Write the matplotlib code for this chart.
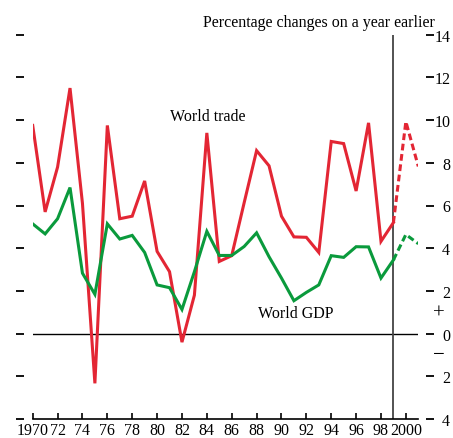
import matplotlib
matplotlib.use("Agg")
import matplotlib.pyplot as plt
import matplotlib.transforms as mtransforms

years = list(range(1970, 2000))
trade = [9.75, 5.7, 7.8, 11.5, 6.1, -2.33, 9.75, 5.38, 5.5, 7.15,
         3.85, 2.9, -0.4, 1.8, 9.4, 3.38, 3.65, 6.13, 8.57, 7.86,
         5.5, 4.53, 4.51, 3.8, 9.0, 8.9, 6.68, 9.87, 4.32, 5.2]
gdp = [5.14, 4.67, 5.38, 6.84, 2.83, 1.84, 5.14, 4.43, 4.6, 3.8,
       2.28, 2.15, 1.13, 2.9, 4.79, 3.66, 3.66, 4.08, 4.72, 3.6,
       2.6, 1.54, 1.93, 2.28, 3.65, 3.57, 4.07, 4.06, 2.6, 3.45]
fc_years = [1999, 2000, 2001]
trade_fc = [5.2, 9.93, 7.83]
gdp_fc = [3.45, 4.64, 4.21]

xtick_pos = list(range(1970, 2001, 2))
xtick_labels = ["1970"] + [f"{y % 100:02d}" for y in range(1972, 2000, 2)] + ["2000"]
ytick_pos = list(range(-4, 15, 2))
ytick_labels = [str(abs(v)) for v in ytick_pos]

RED = "#e32634"
GREEN = "#0a9a3c"
SERIF = ["Liberation Serif", "DejaVu Serif"]
plt.rcParams["font.family"] = SERIF
FS = 11.5

fig = plt.figure(figsize=(4.53, 4.39), dpi=100)
ax = fig.add_axes([32.7 / 453, 1 - 420 / 439, (418.3 - 32.7) / 453, (420 - 35.7) / 439])

ax.plot(years, trade, color=RED, lw=2.2, solid_joinstyle="miter", zorder=3)
ax.plot(years, gdp, color=GREEN, lw=2.2, solid_joinstyle="miter", zorder=3)
ax.plot(fc_years, trade_fc, color=RED, lw=2.2, dashes=(2.2, 1.2), zorder=3)
ax.plot(fc_years, gdp_fc, color=GREEN, lw=2.2, dashes=(2.2, 1.2), zorder=3)

ax.axhline(0, color="black", lw=1.0, zorder=2)
ax.axvline(1999, color="#444444", lw=1.3, zorder=2)

ax.set_xlim(1970, 2001)
ax.set_ylim(-4, 14)

ax.spines["top"].set_visible(False)
ax.spines["bottom"].set_linewidth(1.2)
ax.spines["left"].set_position(("outward", 6.4))
ax.spines["left"].set_visible(False)
ax.spines["right"].set_position(("outward", 5.5))
ax.spines["right"].set_visible(False)

ax.set_xticks(xtick_pos)
ax.set_xticklabels(xtick_labels, fontsize=FS)
ax.tick_params(axis="x", direction="in", length=4, width=1.2, pad=2.5)

ax.set_yticks(ytick_pos)
ax.set_yticklabels(ytick_labels, fontsize=FS)
ax.tick_params(axis="y", direction="out", length=5.5, width=1.3,
               left=True, right=True, labelleft=False, labelright=True, pad=12)
for t in ax.yaxis.get_major_ticks():
    t.label2.set_horizontalalignment("right")

trans = mtransforms.blended_transform_factory(fig.transFigure, ax.transData)
ax.text(439 / 453, 0.95, "+", transform=trans, ha="center", va="center", fontsize=15)
ax.text(439 / 453, -0.97, "\u2212", transform=trans, ha="center", va="center", fontsize=15)

fig.text(435 / 453, 1 - 23 / 439, "Percentage changes on a year earlier",
         ha="right", va="center", fontsize=FS)
ax.text(1981.0, 10.2, "World trade", ha="left", va="center", fontsize=FS)
ax.text(1988.1, 0.95, "World GDP", ha="left", va="center", fontsize=FS)

fig.savefig("out.png", dpi=100)
